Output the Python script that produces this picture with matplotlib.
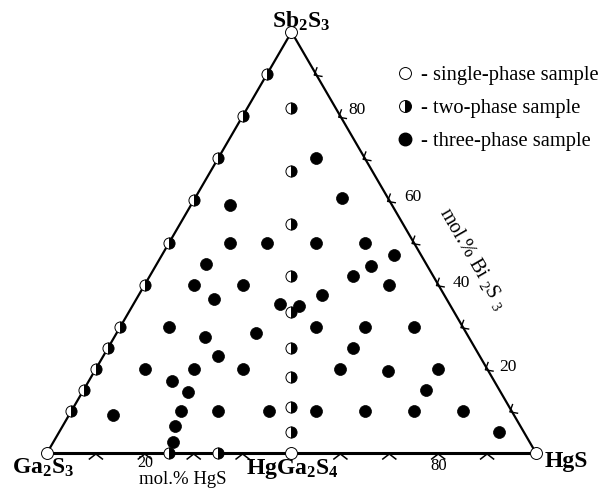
import numpy as np
import matplotlib
matplotlib.use("Agg")
import matplotlib.pyplot as plt
from matplotlib.lines import Line2D

plt.rcParams['font.family'] = ['Liberation Serif', 'DejaVu Serif']
plt.rcParams['mathtext.fontset'] = 'custom'
plt.rcParams['mathtext.rm'] = 'Liberation Serif'
plt.rcParams['mathtext.it'] = 'Liberation Serif:italic'
plt.rcParams['mathtext.bf'] = 'Liberation Serif:bold'

# ---- data: compositions in mol.% (HgS, Sb2S3); remainder is Ga2S3 ----
three_hgs = [20, 8, 30, 12.5, 20, 30, 40, 47.5, 10, 44, 41.5, 10, 20, 50, 16, 37.5,
             30, 34, 10, 28.5, 40, 50, 60, 18.5, 50, 23.5, 10, 20, 30, 50, 60, 70,
             17, 21.5, 70, 22.5, 30, 40.5, 50, 60, 70, 80, 9, 23, 90, 24.5]
three_sb = [70, 59, 60.5, 50, 50, 50, 50, 47, 45, 44.5, 42, 40, 40, 40, 36.5, 37.5,
            35.5, 35, 30, 28.5, 30, 30, 30, 27.5, 25, 23, 20, 20, 20, 20, 19.5, 20,
            17, 14.5, 15, 10, 10, 10, 10, 10, 10, 10, 9, 6.5, 5, 2.5]

two_hgs = [0, 0, 0, 0, 0, 0, 0, 0, 0, 0, 0,
           9, 16.5, 22.75, 29, 33.25, 37.5, 41, 44.5, 47.5,
           25, 35]
two_sb = [90, 80, 70, 60, 50, 40, 30, 25, 20, 15, 10,
          82, 67, 54.5, 42, 33.5, 25, 18, 11, 5,
          0, 0]

one_hgs = [0, 100, 0, 50]
one_sb = [0, 0, 100, 0]

bottom_ticks = [10, 20, 30, 40, 60, 70, 80, 90]
bottom_labels = {20: "20", 80: "80"}
right_ticks = [10, 20, 30, 40, 50, 60, 70, 80, 90]
right_labels = {20: "20", 40: "40", 60: "60", 80: "80"}

S3 = np.sqrt(3) / 2


def tern(h, b):
    h = np.asarray(h, dtype=float) / 100.0
    b = np.asarray(b, dtype=float) / 100.0
    return h + b / 2.0, b * S3


W, H = 605, 488
fig = plt.figure(figsize=(W / 100, H / 100), dpi=100)
ax = fig.add_axes([0, 0, 1, 1])
XS = 489.0          # pixels per unit x
YS = 421.0 / S3     # pixels per unit y
x0, y0 = 47.0, 453.0
ax.set_xlim(-x0 / XS, (W - x0) / XS)
ax.set_ylim(-(H - y0) / YS, y0 / YS)
ax.axis('off')


def P(px, py):
    """pixel position -> data coords (for text placement only)"""
    return (px - x0) / XS, (y0 - py) / YS


# triangle
ax.plot([0, 0.5, 1], [0, S3, 0], color='black', lw=1.6, zorder=1, solid_capstyle='butt')
ax.plot([0, 1], [0, 0], color='black', lw=2.2, zorder=1)

# bottom ticks ("^" chevrons below the line)
dx, dy = 6.5 / XS, 5.0 / YS
for t in bottom_ticks:
    x, y = tern(t, 0)
    ax.plot([x - dx, x, x + dx], [y - dy - 1.0 / YS, y - 1.0 / YS, y - dy - 1.0 / YS],
            color='black', lw=1.1, zorder=1)

# right ticks
tang = np.array([-0.5, S3])
nrm = np.array([S3, 0.5])
for t in right_ticks:
    x, y = tern(100 - t, t)
    p = np.array([x, y])
    a1 = p + (4.0 * nrm + 5.0 * tang) / XS
    a2 = p + (4.0 * nrm - 5.0 * tang) / XS
    ax.plot([a1[0], p[0] - 2.0 * nrm[0] / XS, a2[0]],
            [a1[1], p[1] - 2.0 * nrm[1] / XS, a2[1]], color='black', lw=1.0, zorder=1)

# points
x, y = tern(three_hgs, three_sb)
ax.plot(x, y, 'o', ms=8.6, color='black', mec='black', mew=0.5, ls='none', zorder=3)
x, y = tern(two_hgs, two_sb)
ax.plot(x, y, 'o', ms=8.0, fillstyle='right', mfc='black', mfcalt='white',
        mec='black', mew=0.7, ls='none', zorder=4)
x, y = tern(one_hgs, one_sb)
ax.plot(x, y, 'o', ms=8.6, mfc='white', mec='black', mew=0.7, ls='none', zorder=5)

# vertex labels
bold = dict(fontsize=17, fontweight='bold', color='black')
ax.text(*P(301, 28), r"Sb$_\mathbf{2}$S$_\mathbf{3}$", ha='center', va='baseline', **bold)
ax.text(*P(43, 474), r"Ga$_\mathbf{2}$S$_\mathbf{3}$", ha='center', va='baseline', **bold)
ax.text(*P(292, 474), r"HgGa$_\mathbf{2}$S$_\mathbf{4}$", ha='center', va='baseline', **bold)
ax.text(*P(545, 467), "HgS", ha='left', va='baseline', **bold)

# axis labels
ax.text(*P(183, 484), "mol.% HgS", ha='center', va='baseline', fontsize=13.5)
ax.text(*P(145, 467), bottom_labels[20], ha='center', va='baseline', fontsize=11.5)
ax.text(*P(439, 470), bottom_labels[80], ha='center', va='baseline', fontsize=12)
for t, (px, py) in zip([80, 60, 40, 20], [(357, 110), (413, 197), (461, 283), (508, 367)]):
    ax.text(*P(px, py), right_labels[t], ha='center', va='center', fontsize=12.5)
ax.text(*P(473, 259), r"mol.% Bi $_{2}$S $_{3}$", rotation=-60, rotation_mode='anchor',
        ha='center', va='center', fontsize=14.5)

# legend
handles = [
    Line2D([], [], marker='o', ls='none', ms=8.6, mfc='white', mec='black', mew=0.7),
    Line2D([], [], marker='o', ls='none', ms=8.6, fillstyle='right', mfc='black',
           mfcalt='white', mec='black', mew=0.7),
    Line2D([], [], marker='o', ls='none', ms=9.0, color='black'),
]
labels = ["- single-phase sample", "- two-phase sample", "- three-phase sample"]
ax.legend(handles, labels, loc='upper left', bbox_to_anchor=(397 / W, 1 - 66 / H),
          bbox_transform=fig.transFigure, frameon=False, fontsize=14.8, borderpad=0,
          borderaxespad=0, handlelength=0.8, handletextpad=0.38, labelspacing=0.66)

fig.savefig("out.png", dpi=100)
